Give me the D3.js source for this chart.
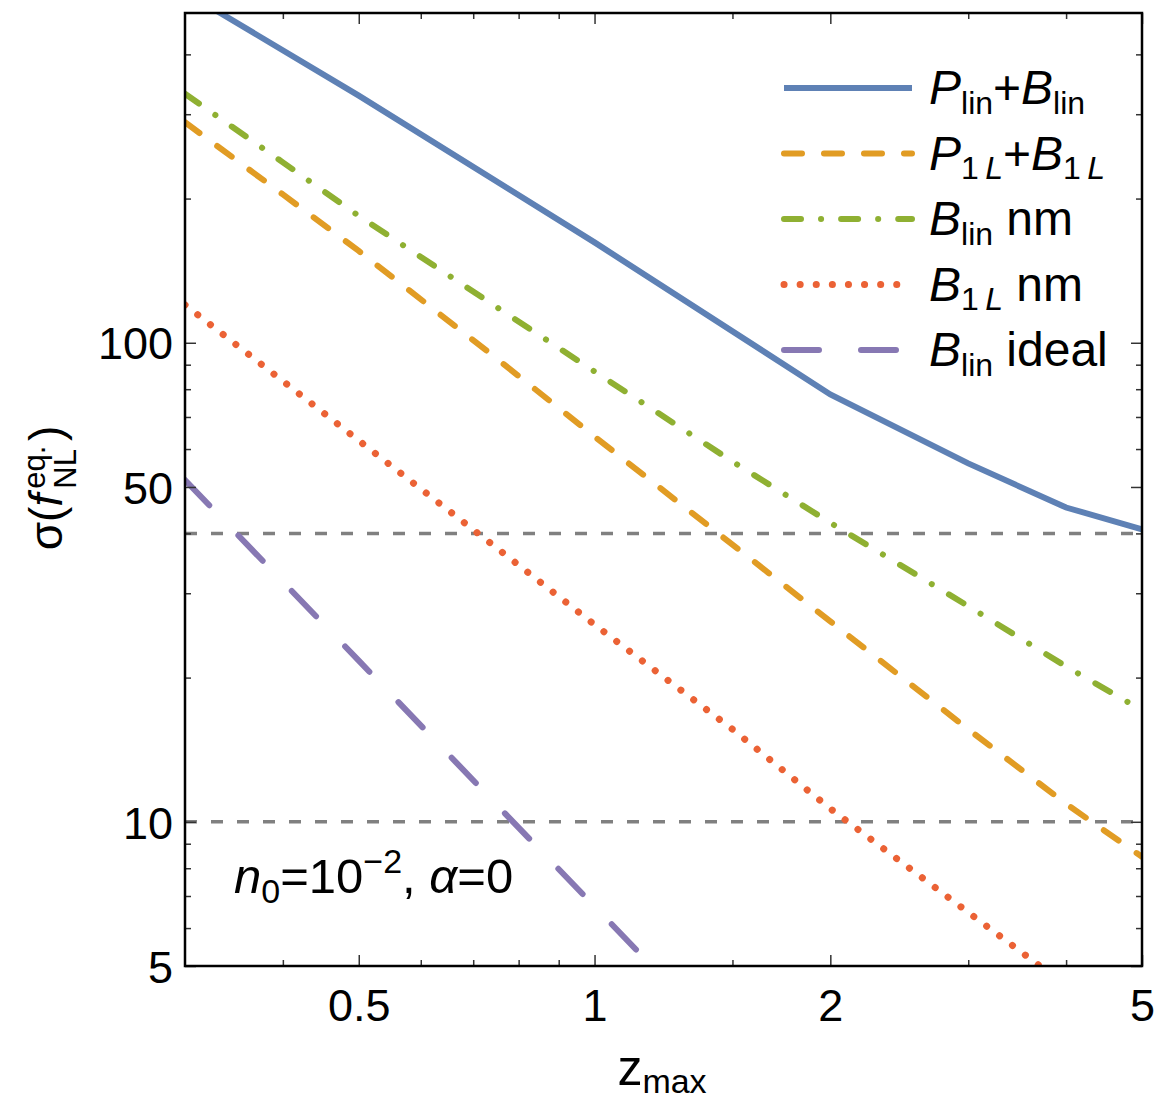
<!DOCTYPE html>
<html>
<head>
<meta charset="utf-8">
<script src="https://cdnjs.cloudflare.com/ajax/libs/d3/7.8.5/d3.min.js"></script>
<style>
  body { margin: 0; background: #fff; }
  text { font-family: "Liberation Sans", Arial, sans-serif; fill: #000; }
</style>
</head>
<body>
<div id="chart"></div>
<script>
// values (log-log)
var zLin = [0.3, 0.5, 1, 2, 3, 4, 5];
var sigmaPlinBlin = [540, 328, 162, 78, 56, 45.3, 40.8];

var zGrid = [0.3, 0.4, 0.5, 0.75, 1, 1.5, 2, 3, 4, 5];
var sigmaP1LB1L = [288.6, 204, 155.5, 92.7, 63.7, 37.9, 26.2, 15.6, 10.9, 8.45];
var sigmaBlinNm = [331, 238, 184, 118.7, 87.1, 56.5, 42.1, 28.2, 21.1, 17.1];
var sigmaB1LNm = [120, 83.2, 62.5, 37.3, 25.8, 15.6, 10.65, 6.47, 4.55, 3.47];

var zIdeal = [0.3, 0.5, 0.75, 1, 1.5];
var sigmaBlinIdeal = [51.7, 21.7, 10.85, 6.66, 3.34];

var refLines = [10, 40];

var xMajor = [0.5, 1, 2, 5];
var xMinor = [0.4, 0.6, 0.7, 0.8, 0.9, 1.5, 3, 4];
var yMajor = [5, 10, 50, 100];
var yMinor = [6, 7, 8, 9, 20, 30, 40, 60, 70, 80, 90, 200, 300, 400];

var series = [
  {z: zLin,   v: sigmaPlinBlin,  color: "#5E81B5", dash: null,            cap: "butt"},
  {z: zGrid,  v: sigmaP1LB1L,    color: "#E19C24", dash: "18,22",         cap: "round"},
  {z: zGrid,  v: sigmaBlinNm,    color: "#8FB032", dash: "17,20,0.1,20",  cap: "round"},
  {z: zGrid,  v: sigmaB1LNm,     color: "#EB6235", dash: "0.1,16",        cap: "round"},
  {z: zIdeal, v: sigmaBlinIdeal, color: "#8778B3", dash: "35,42",         cap: "round"}
];

var margin = {top: 13, right: 12, bottom: 134, left: 185};
var W = 1154, H = 1100;
var width = W - margin.left - margin.right;
var height = H - margin.top - margin.bottom;

var svg = d3.select("#chart").append("svg")
    .attr("width", W)
    .attr("height", H);

var g = svg.append("g")
    .attr("transform", "translate(" + margin.left + "," + margin.top + ")");

var x = d3.scaleLog().domain([0.3, 5]).range([0, width]);
var y = d3.scaleLog().domain([5, 488]).range([height, 0]);

g.append("clipPath").attr("id", "clip")
  .append("rect").attr("width", width).attr("height", height);

var plot = g.append("g").attr("clip-path", "url(#clip)");

// gray reference lines
plot.selectAll(".ref")
    .data(refLines)
    .enter().append("line")
    .attr("class", "ref")
    .attr("x1", 0)
    .attr("x2", width)
    .attr("y1", function(d) { return y(d); })
    .attr("y2", function(d) { return y(d); })
    .attr("stroke", "#808080")
    .attr("stroke-width", 3.5)
    .attr("stroke-dasharray", "12,14");

var line = d3.line()
    .x(function(d) { return x(d[0]); })
    .y(function(d) { return y(d[1]); });

series.forEach(function(s) {
  var pts = s.z.map(function(z, i) { return [z, s.v[i]]; });
  plot.append("path")
      .datum(pts)
      .attr("fill", "none")
      .attr("stroke", s.color)
      .attr("stroke-width", s.dash == "0.1,16" ? 7 : 6)
      .attr("stroke-linecap", s.cap)
      .attr("stroke-dasharray", s.dash)
      .attr("d", line);
});

// axes: ticks on all four sides pointing inward
function tickAxis(axisFn, scale, vals, size, labels) {
  var a = axisFn(scale).tickValues(vals).tickSizeInner(-size).tickSizeOuter(0).tickPadding(12);
  if (!labels) a.tickFormat("");
  else a.tickFormat(function(d) { return d; });
  return a;
}

function drawAxis(axis, transform) {
  var ag = g.append("g").attr("transform", transform).call(axis);
  ag.select(".domain").remove();
  ag.selectAll("line").attr("stroke", "#333").attr("stroke-width", 1.5);
  ag.selectAll("text").style("font-size", "45px").style("font-family", "'Liberation Sans', Arial, sans-serif");
  return ag;
}

drawAxis(tickAxis(d3.axisBottom, x, xMajor, 11, true), "translate(0," + height + ")")
  .selectAll("text").attr("dy", "0.95em");
drawAxis(tickAxis(d3.axisBottom, x, xMinor, 6, false), "translate(0," + height + ")");
drawAxis(tickAxis(d3.axisTop, x, xMajor, 11, false), "translate(0,0)");
drawAxis(tickAxis(d3.axisTop, x, xMinor, 6, false), "translate(0,0)");
drawAxis(tickAxis(d3.axisLeft, y, yMajor, 11, true), "translate(0,0)")
  .selectAll("text").attr("dy", "0.36em");
drawAxis(tickAxis(d3.axisLeft, y, yMinor, 6, false), "translate(0,0)");
drawAxis(tickAxis(d3.axisRight, y, yMajor, 11, false), "translate(" + width + ",0)");
drawAxis(tickAxis(d3.axisRight, y, yMinor, 6, false), "translate(" + width + ",0)");

// frame
g.append("rect")
    .attr("width", width)
    .attr("height", height)
    .attr("fill", "none")
    .attr("stroke", "#000")
    .attr("stroke-width", 2.5);

// legend
var legendItems = [
  [["P", "i"], ["lin", "s"], ["+", "n"], ["B", "i"], ["lin", "s"]],
  [["P", "i"], ["1\u2009", "s"], ["L", "si"], ["+", "n"], ["B", "i"], ["1\u2009", "s"], ["L", "si"]],
  [["B", "i"], ["lin", "s"], [" nm", "n"]],
  [["B", "i"], ["1\u2009", "s"], ["L", "si"], [" nm", "n"]],
  [["B", "i"], ["lin", "s"], [" ideal", "n"]]
];

function richText(sel, parts, size, subSize) {
  var prevSub = false;
  parts.forEach(function(p) {
    var t = sel.append("tspan").text(p[0]);
    var sub = p[1] == "s" || p[1] == "si";
    if (sub) t.style("font-size", subSize + "px");
    if (p[1] == "i" || p[1] == "si") t.style("font-style", "italic");
    if (sub && !prevSub) t.attr("dy", size * 0.2);
    if (!sub && prevSub) t.attr("dy", -size * 0.2);
    prevSub = sub;
  });
}

var legend = svg.append("g");
legendItems.forEach(function(parts, i) {
  var s = series[i];
  var ly = 88 + i * 65.5;
  legend.append("line")
      .attr("x1", 784).attr("x2", 912)
      .attr("y1", ly).attr("y2", ly)
      .attr("stroke", s.color)
      .attr("stroke-width", s.dash == "0.1,16" ? 7 : 6)
      .attr("stroke-linecap", s.cap)
      .attr("stroke-dasharray", s.dash);
  var t = legend.append("text")
      .attr("x", 929)
      .attr("y", ly + 16)
      .style("font-size", "48px");
  richText(t, parts, 48, 32);
});

// annotation
var ann = svg.append("text").attr("x", 234).attr("y", 893).style("font-size", "49px");
ann.append("tspan").text("n").style("font-style", "italic");
ann.append("tspan").text("0").style("font-size", "34px").attr("dy", 10);
ann.append("tspan").text("=10").attr("dy", -10);
ann.append("tspan").text("\u22122").style("font-size", "34px").attr("dy", -20);
ann.append("tspan").text(", ").attr("dy", 20);
ann.append("tspan").text("\u03b1").style("font-style", "italic");
ann.append("tspan").text("=0");

// axis labels
var xl = svg.append("text")
    .attr("x", 662)
    .attr("y", 1085)
    .attr("text-anchor", "middle")
    .style("font-size", "50px");
xl.append("tspan").text("z");
xl.append("tspan").text("max").style("font-size", "34px").attr("dy", 8);

var yl = svg.append("text")
    .attr("transform", "translate(62,488) rotate(-90)")
    .attr("text-anchor", "middle")
    .style("font-size", "46px");
yl.append("tspan").text("\u03c3(");
yl.append("tspan").text("f").style("font-style", "italic");
yl.append("tspan").text("eq.").style("font-size", "31px").attr("dx", 5).attr("dy", -17);
yl.append("tspan").text("NL").style("font-size", "31px").attr("dx", -43).attr("dy", 31);
yl.append("tspan").text(")").attr("dy", -14).attr("dx", 8);
</script>
</body>
</html>
